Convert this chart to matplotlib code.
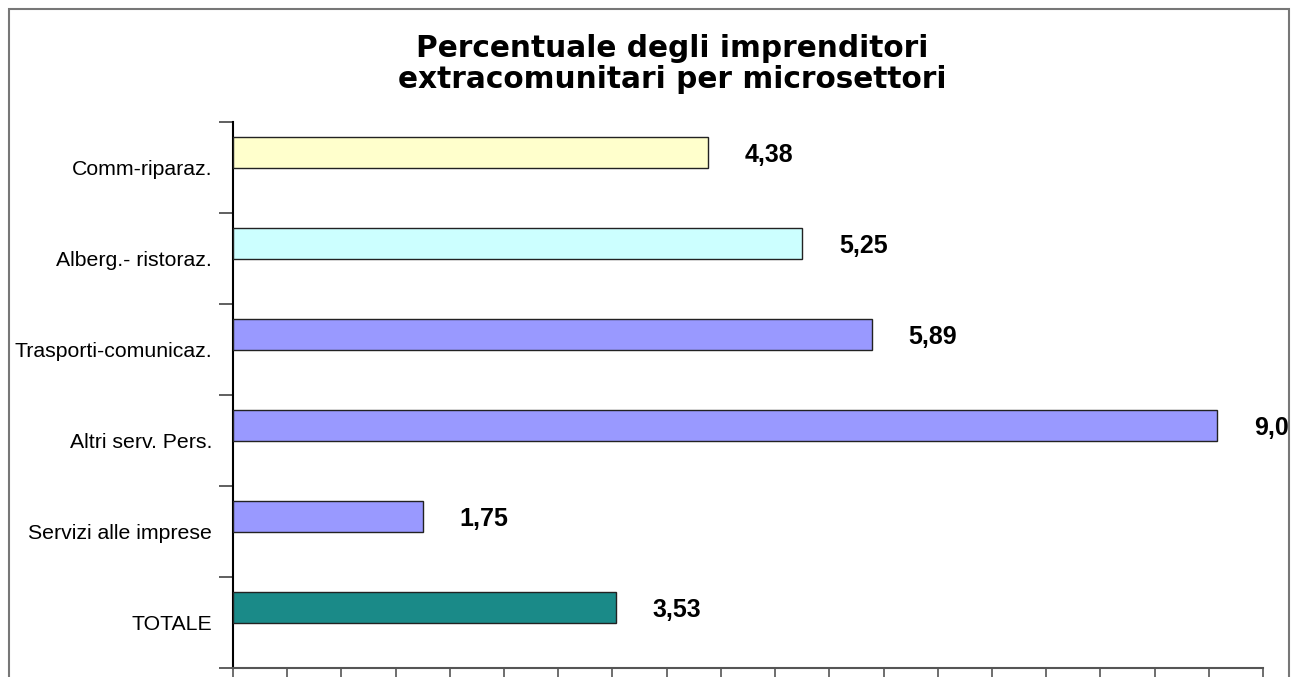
import matplotlib
matplotlib.use("Agg")
import matplotlib.pyplot as plt
from matplotlib.patches import Rectangle
from matplotlib.ticker import MultipleLocator, FixedLocator, NullFormatter

categories = ["TOTALE", "Servizi alle imprese", "Altri serv. Pers.",
              "Trasporti-comunicaz.", "Alberg.- ristoraz.", "Comm-riparaz."]
values = [3.53, 1.75, 9.08, 5.89, 5.25, 4.38]
value_labels = ["3,53", "1,75", "9,08", "5,89", "5,25", "4,38"]
colors = ["#1A8A88", "#9999FF", "#9999FF", "#9999FF", "#CCFFFF", "#FFFFCC"]
title = "Percentuale degli imprenditori\nextracomunitari per microsettori"

W, H = 1291, 677
fig = plt.figure(figsize=(W / 100, H / 100), dpi=100)
fig.patch.set_facecolor("white")

ax = fig.add_axes([233 / W, (H - 668) / H, 1030 / W, 546 / H])

pos = list(range(len(categories)))
bar_centers = [p + 0.165 for p in pos]
ax.barh(bar_centers, values, height=0.336, color=colors,
        edgecolor="#222222", linewidth=1.0, zorder=3)

for yc, v, lab in zip(bar_centers, values, value_labels):
    ax.annotate(lab, xy=(v, yc), xytext=(37, -3), textcoords="offset pixels",
                ha="left", va="center", fontsize=18, fontweight="bold",
                family="Liberation Sans", color="black", annotation_clip=False)

ax.set_xlim(0, 9.5)
ax.set_ylim(-0.5, len(categories) - 0.5)

ax.xaxis.set_major_locator(MultipleLocator(0.5))
ax.xaxis.set_major_formatter(NullFormatter())
ax.tick_params(axis="x", direction="out", length=9, width=1.2, color="#555555")

ax.yaxis.set_major_locator(FixedLocator([p - 0.5 for p in pos] + [len(pos) - 0.5]))
ax.yaxis.set_major_formatter(NullFormatter())
ax.yaxis.set_minor_locator(FixedLocator(pos))
ax.set_yticklabels(categories, minor=True, family="Liberation Sans", fontsize=15.3)
ax.tick_params(axis="y", which="major", direction="out", length=10, width=1.2,
               color="#444444")
ax.tick_params(axis="y", which="minor", length=0, pad=15)

for s in ["top", "right"]:
    ax.spines[s].set_visible(False)
ax.spines["left"].set_color("black")
ax.spines["left"].set_linewidth(1.5)
ax.spines["bottom"].set_color("#555555")
ax.spines["bottom"].set_linewidth(1.5)

fig.text(672 / W, 1 - 64 / H, title, ha="center", va="center",
         fontsize=21.3, fontweight="bold", family="DejaVu Sans", linespacing=1.12)

# clip region right of border & draw chart border
fig.patches.append(Rectangle((1288.5 / W, 0), 1, 1, transform=fig.transFigure,
                             facecolor="white", edgecolor="none", zorder=20))
fig.patches.append(Rectangle((8.5 / W, -0.1), (1280) / W, (H - 9) / H + 0.1,
                             transform=fig.transFigure, facecolor="none",
                             edgecolor="#777777", linewidth=1.5, zorder=21))

fig.savefig("out.png", dpi=100)
